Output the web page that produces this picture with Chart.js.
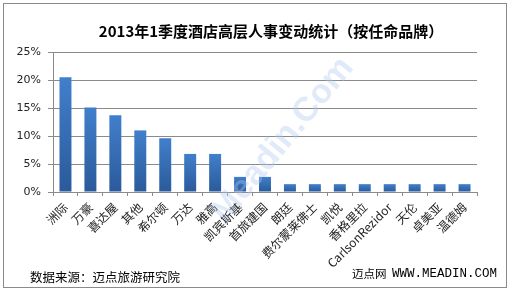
<!DOCTYPE html>
<html>
<head>
<meta charset="utf-8">
<script src="https://cdn.jsdelivr.net/npm/chart.js@4"></script>
<style>
  html, body { margin: 0; padding: 0; background: #fff; }
  #wrap { position: relative; width: 512px; height: 293px; }
</style>
</head>
<body>
<div id="wrap"><canvas id="grafico" width="512" height="293"></canvas></div>
<script>
// datos (porcentaje de cambios por marca)
const marcas = ['洲际', '万豪', '喜达屋', '其他', '希尔顿', '万达', '雅高', '凯宾斯基', '首旅建国',
  '朗廷', '费尔蒙莱佛士', '凯悦', '香格里拉', 'CarlsonRezidor', '天伦', '卓美亚', '温德姆'];
const porcentajes = [20.5, 15.1, 13.7, 11.0, 9.6, 6.8, 6.8, 2.7, 2.7, 1.4, 1.4, 1.4, 1.4, 1.4, 1.4, 1.4, 1.4];
const ticksY = [0, 5, 10, 15, 20, 25];

const titulo = '2013年1季度酒店高层人事变动统计（按任命品牌）';
const fuente = '数据来源：迈点旅游研究院';
const sitio = '迈点网';
const sitioUrl = 'WWW.MEADIN.COM';
const marcaAgua = 'Meadin.Com';

const cjk = '"Noto Sans CJK SC", "Noto Sans", sans-serif';

function colorBarra(ctx) {
  const chart = ctx.chart;
  const area = chart.chartArea;
  if (!area || ctx.parsed === undefined) return '#3569b0';
  const y = chart.scales.y;
  const top = y.getPixelForValue(ctx.parsed.y);
  const base = y.getPixelForValue(0);
  const g = chart.ctx.createLinearGradient(0, top, 0, base);
  g.addColorStop(0, '#417fcc');
  g.addColorStop(1, '#2a5a9a');
  return g;
}

const textos = {
  id: 'textos',
  beforeDraw(chart) {
    const c = chart.ctx;
    c.save();
    c.fillStyle = '#fff';
    c.fillRect(0, 0, chart.width, chart.height);
    c.strokeStyle = '#8a8a8a';
    c.lineWidth = 1;
    c.strokeRect(3.5, 3.5, 503, 284);
    c.restore();
  },
  afterDraw(chart) {
    const c = chart.ctx;
    c.save();
    c.fillStyle = '#000';
    c.textBaseline = 'middle';
    c.textAlign = 'center';
    c.font = 'bold 15px ' + cjk;
    c.fillText(titulo, 271, 31);

    c.textAlign = 'left';
    c.font = '12.5px ' + cjk;
    c.fillText(fuente, 30, 277);

    c.font = '11.5px ' + cjk;
    c.fillText(sitio, 352, 274);
    c.font = '12.5px "Liberation Mono", monospace';
    c.fillText(sitioUrl, 392, 274);

    // marca de agua
    c.translate(283, 140);
    c.rotate(-50.5 * Math.PI / 180);
    c.textAlign = 'center';
    c.font = 'bold 34px "Liberation Sans", Arial, sans-serif';
    c.fillStyle = 'rgba(175, 200, 238, 0.38)';
    c.fillText(marcaAgua, 0, 0);
    c.restore();
  }
};

const configuracion = {
  type: 'bar',
  data: {
    labels: marcas,
    datasets: [{
      data: porcentajes,
      backgroundColor: colorBarra,
      barPercentage: 0.48,
      categoryPercentage: 1.0
    }]
  },
  options: {
    responsive: false,
    animation: false,
    layout: { padding: { top: 52, left: 0, right: 35, bottom: 21 } },
    plugins: { legend: { display: false }, tooltip: { enabled: false } },
    scales: {
      x: {
        afterFit(s) { s.height = 80; },
        grid: {
          offset: true, drawOnChartArea: false, drawTicks: true,
          tickLength: 4, color: '#8a8a8a'
        },
        border: { color: '#8a8a8a' },
        ticks: {
          autoSkip: false, maxRotation: 45, minRotation: 45, padding: 4,
          color: '#222', font: { family: cjk, size: 12 }
        }
      },
      y: {
        min: 0, max: 25,
        afterFit(s) { s.width = 53; },
        afterBuildTicks(s) { s.ticks = ticksY.map(v => ({ value: v })); },
        grid: { color: '#8a8a8a', tickLength: 5 },
        border: { color: '#8a8a8a' },
        ticks: {
          padding: 7, color: '#222',
          font: { family: '"DejaVu Sans", sans-serif', size: 11 },
          callback: v => v + '%'
        }
      }
    }
  },
  plugins: [textos]
};

new Chart(document.getElementById('grafico'), configuracion);
</script>
</body>
</html>
